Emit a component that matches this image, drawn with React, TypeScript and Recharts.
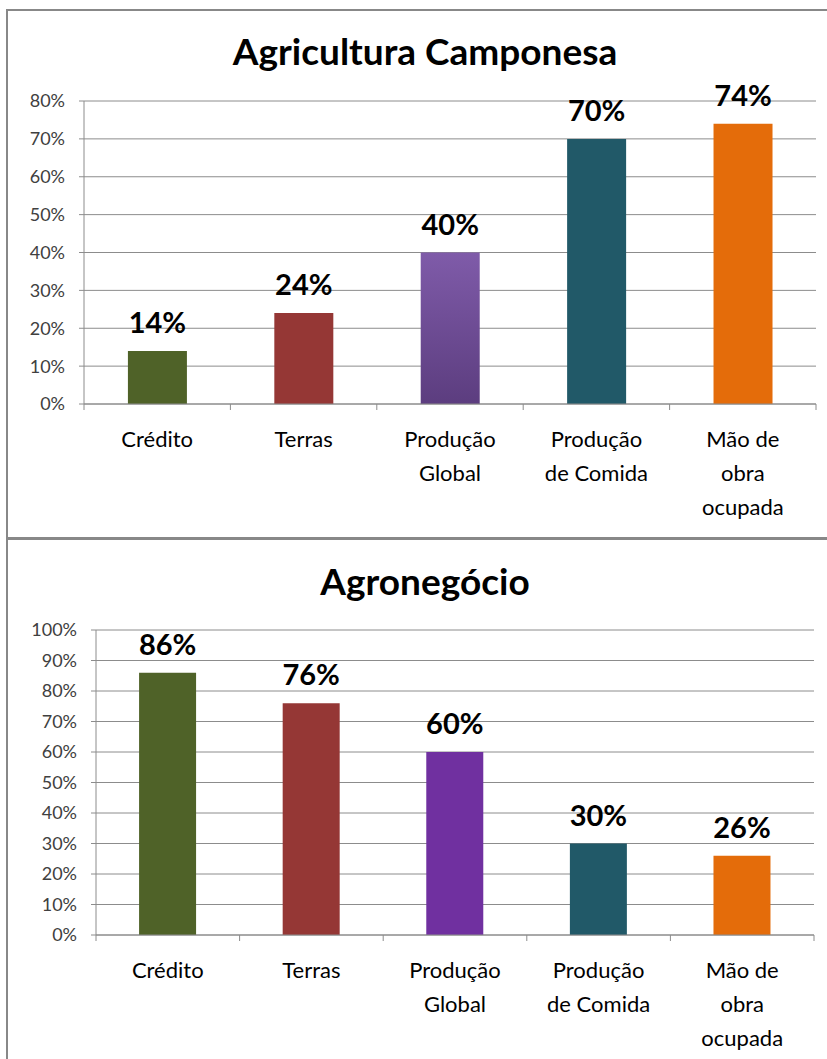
import React from 'react';
import { BarChart, Bar, XAxis, YAxis, CartesianGrid, Cell, LabelList } from 'recharts';

const categories = ['Crédito', 'Terras', 'Produção\nGlobal', 'Produção\nde Comida', 'Mão de\nobra\nocupada'];
const camponesaValues = [0.14, 0.24, 0.40, 0.70, 0.74];
const agronegocioValues = [0.86, 0.76, 0.60, 0.30, 0.26];
const camponesaColors = ['#4F6228', '#953735', 'url(#purpleGrad)', '#215968', '#E46C0A'];
const agronegocioColors = ['#4F6228', '#953735', '#7030A0', '#215968', '#E46C0A'];
const camponesaTicks = [0, 0.1, 0.2, 0.3, 0.4, 0.5, 0.6, 0.7, 0.8];
const agronegocioTicks = [0, 0.1, 0.2, 0.3, 0.4, 0.5, 0.6, 0.7, 0.8, 0.9, 1.0];

const camponesaData = categories.map((c, i) => ({ cat: c, v: camponesaValues[i] }));
const agronegocioData = categories.map((c, i) => ({ cat: c, v: agronegocioValues[i] }));

const FONT = 'Lato, "Open Sans", sans-serif';
const GRID = '#8c8c8c';
const pct = (v: number) => `${Math.round(v * 100)}%`;

const CatTick = (props: any) => {
  const { x, y, payload, index, visibleTicksCount } = props;
  const half = payload && payload.offset ? payload.offset : 0;
  const lines = String(payload.value).split('\n');
  const isLast = index === (visibleTicksCount ?? 5) - 1;
  return (
    <g>
      <line x1={x - half} x2={x - half} y1={y} y2={y + 6} stroke={GRID} strokeWidth={1} />
      {isLast && <line x1={x + half} x2={x + half} y1={y} y2={y + 6} stroke={GRID} strokeWidth={1} />}
      <text x={x} y={y + 43} textAnchor="middle" fontFamily={FONT} fontSize={22} fill="#000">
        {lines.map((l, i) => (
          <tspan key={i} x={x} dy={i === 0 ? 0 : 34}>{l}</tspan>
        ))}
      </text>
    </g>
  );
};

function Chart(props: {
  data: any[];
  colors: string[];
  ticks: number[];
  max: number;
  width: number;
  height: number;
  margin: any;
}) {
  const { data, colors, ticks, max, width, height, margin } = props;
  return (
    <BarChart width={width} height={height} data={data} margin={margin} barCategoryGap="30%">
      <defs>
        <linearGradient id="purpleGrad" x1="0" y1="0" x2="0" y2="1">
          <stop offset="0%" stopColor="#7F5BA9" />
          <stop offset="100%" stopColor="#5C3D7F" />
        </linearGradient>
      </defs>
      <CartesianGrid vertical={false} stroke={GRID} strokeWidth={1} />
      <XAxis
        dataKey="cat"
        interval={0}
        tickSize={0}
        tickMargin={0}
        tickLine={false}
        axisLine={{ stroke: GRID, strokeWidth: 1 }}
        tick={<CatTick />}
        height={30}
      />
      <YAxis
        domain={[0, max]}
        ticks={ticks}
        interval={0}
        tickFormatter={pct}
        width={60}
        tickSize={5}
        tickMargin={14}
        axisLine={{ stroke: GRID, strokeWidth: 1 }}
        tickLine={{ stroke: GRID, strokeWidth: 1 }}
        tick={{ fontFamily: FONT, fontSize: 18, fill: '#404040' }}
      />
      <Bar dataKey="v" isAnimationActive={false}>
        {data.map((_, i) => (
          <Cell key={i} fill={colors[i]} />
        ))}
        <LabelList
          dataKey="v"
          position="top"
          offset={18}
          formatter={(v: any) => pct(Number(v))}
          style={{ fontFamily: FONT, fontSize: 29, fontWeight: 700, fill: '#000' }}
        />
      </Bar>
    </BarChart>
  );
}

export default function App() {
  return (
    <div style={{ position: 'absolute', left: 0, top: 0, width: 827, height: 1059, background: '#fff', overflow: 'hidden' }}>
      {/* frames */}
      <div style={{ position: 'absolute', left: 6, top: 9, width: 900, height: 1100, borderLeft: '2px solid #888', borderTop: '2px solid #888' }} />
      <div style={{ position: 'absolute', left: 6, top: 537, width: 900, height: 3, background: '#888' }} />

      {/* top chart */}
      <div style={{ position: 'absolute', left: 0, top: 0 }}>
        <Chart
          data={camponesaData}
          colors={camponesaColors}
          ticks={camponesaTicks}
          max={0.8}
          width={827}
          height={537}
          margin={{ top: 101, right: 11, bottom: 103, left: 24 }}
        />
      </div>
      <div style={{ position: 'absolute', left: 0, top: 27, width: 850, textAlign: 'center', fontFamily: FONT, fontWeight: 700, fontSize: 37, color: '#000', lineHeight: '48px' }}>
        Agricultura Camponesa
      </div>

      {/* bottom chart */}
      <div style={{ position: 'absolute', left: 0, top: 557, width: 850, textAlign: 'center', fontFamily: FONT, fontWeight: 700, fontSize: 37, color: '#000', lineHeight: '48px' }}>
        Agronegócio
      </div>
      <div style={{ position: 'absolute', left: 0, top: 538 }}>
        <Chart
          data={agronegocioData}
          colors={agronegocioColors}
          ticks={agronegocioTicks}
          max={1.0}
          width={827}
          height={521}
          margin={{ top: 92, right: 13, bottom: 94, left: 36 }}
        />
      </div>
    </div>
  );
}
